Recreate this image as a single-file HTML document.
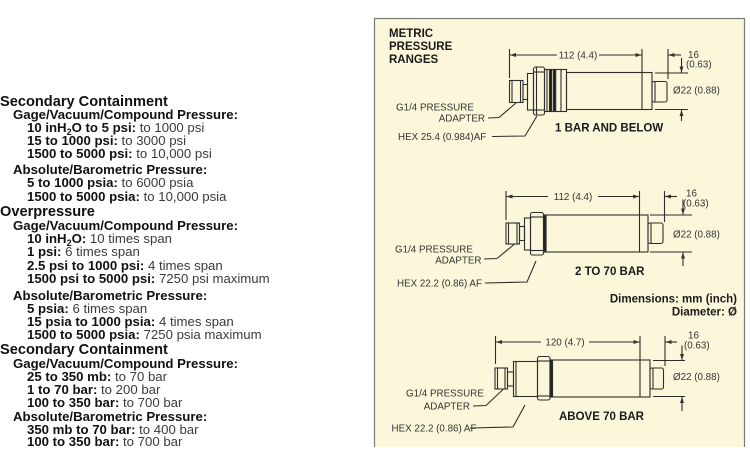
<!DOCTYPE html>
<html><head><meta charset="utf-8"><style>
html,body{margin:0;padding:0;background:#fff;}
body{width:750px;height:447px;position:relative;overflow:hidden;font-family:"Liberation Sans",Arial,sans-serif;}
.l{position:absolute;white-space:nowrap;line-height:16px;height:16px;font-size:13.2px;color:#3a3a3a;}
.l b{color:#111;font-weight:bold;}
.h{font-size:14.6px;font-weight:bold;color:#111;}
.s{font-weight:bold;color:#111;}
.sub{font-size:9px;position:relative;top:3px;}
svg{position:absolute;left:0;top:0;}
</style></head><body>
<div class="l h" style="left:0;top:93.5px">Secondary Containment</div>
<div class="l s" style="left:13px;top:107px">Gage/Vacuum/Compound Pressure:</div>
<div class="l" style="left:27px;top:120px"><b>10 inH<span class="sub">2</span>O to 5 psi:</b> to 1000 psi</div>
<div class="l" style="left:27px;top:133px"><b>15 to 1000 psi:</b> to 3000 psi</div>
<div class="l" style="left:27px;top:146px"><b>1500 to 5000 psi:</b> to 10,000 psi</div>
<div class="l s" style="left:13px;top:161.5px">Absolute/Barometric Pressure:</div>
<div class="l" style="left:27px;top:175px"><b>5 to 1000 psia:</b> to 6000 psia</div>
<div class="l" style="left:27px;top:188.5px"><b>1500 to 5000 psia:</b> to 10,000 psia</div>
<div class="l h" style="left:0;top:203.5px">Overpressure</div>
<div class="l s" style="left:13px;top:217.5px">Gage/Vacuum/Compound Pressure:</div>
<div class="l" style="left:27px;top:230.5px"><b>10 inH<span class="sub">2</span>O:</b> 10 times span</div>
<div class="l" style="left:27px;top:244px"><b>1 psi:</b> 6 times span</div>
<div class="l" style="left:27px;top:257.5px"><b>2.5 psi to 1000 psi:</b> 4 times span</div>
<div class="l" style="left:27px;top:270.5px"><b>1500 psi to 5000 psi:</b> 7250 psi maximum</div>
<div class="l s" style="left:13px;top:287.5px">Absolute/Barometric Pressure:</div>
<div class="l" style="left:27px;top:300.5px"><b>5 psia:</b> 6 times span</div>
<div class="l" style="left:27px;top:313.5px"><b>15 psia to 1000 psia:</b> 4 times span</div>
<div class="l" style="left:27px;top:327px"><b>1500 to 5000 psia:</b> 7250 psia maximum</div>
<div class="l h" style="left:0;top:342px">Secondary Containment</div>
<div class="l s" style="left:13px;top:356px">Gage/Vacuum/Compound Pressure:</div>
<div class="l" style="left:27px;top:369px"><b>25 to 350 mb:</b> to 70 bar</div>
<div class="l" style="left:27px;top:382px"><b>1 to 70 bar:</b> to 200 bar</div>
<div class="l" style="left:27px;top:395px"><b>100 to 350 bar:</b> to 700 bar</div>
<div class="l s" style="left:13px;top:409px">Absolute/Barometric Pressure:</div>
<div class="l" style="left:27px;top:421.5px"><b>350 mb to 70 bar:</b> to 400 bar</div>
<div class="l" style="left:27px;top:434px"><b>100 to 350 bar:</b> to 700 bar</div>

<svg width="750" height="447" viewBox="0 0 750 447" xmlns="http://www.w3.org/2000/svg" font-family="Liberation Sans, Arial, sans-serif">
<defs>
<marker id="a" markerWidth="6" markerHeight="4" refX="6" refY="2" orient="auto" markerUnits="userSpaceOnUse"><path d="M0,0 L6,2 L0,4z" fill="#333"/></marker>
</defs>
<rect x="374.5" y="18.5" width="370" height="440" fill="#fcf6da" stroke="#7a7a72" stroke-width="1.2"/>
<g font-weight="bold" font-size="11.5" fill="#1a1a1a">
<text x="389" y="37">METRIC</text>
<text x="389" y="50">PRESSURE</text>
<text x="389" y="63">RANGES</text>
</g>

<g stroke="#2e2e2e" stroke-width="1.1" fill="none">
<!-- Device 1 -->
<rect x="509.5" y="80.5" width="13.5" height="22" fill="#fcf6da"/>
<line x1="512" y1="80.5" x2="512" y2="102.5"/><line x1="520.5" y1="80.5" x2="520.5" y2="102.5"/>
<rect x="523" y="84.5" width="4.5" height="15"/>
<rect x="527.5" y="73.5" width="6" height="36.5"/>
<rect x="533.5" y="67" width="11" height="48" rx="2"/>
<line x1="533.5" y1="72" x2="544.5" y2="72"/><line x1="533.5" y1="110" x2="544.5" y2="110"/>
<line x1="536.5" y1="67" x2="536.5" y2="115"/>
<rect x="544.5" y="69.5" width="22" height="42"/>
<rect x="549.5" y="69.5" width="2.2" height="42" fill="#222"/>
<rect x="553.5" y="69.5" width="2.2" height="42" fill="#222"/>
<line x1="547" y1="69.5" x2="547" y2="111.5"/><line x1="561" y1="69.5" x2="561" y2="111.5"/>
<rect x="566.5" y="72.5" width="85.5" height="37"/>
<line x1="642" y1="49" x2="642" y2="109.5"/>
<rect x="652" y="81.5" width="15" height="20.5" rx="2"/>
<line x1="655" y1="81.5" x2="655" y2="102"/>
<line x1="509.5" y1="49" x2="509.5" y2="78"/>
<line x1="557" y1="55" x2="510" y2="55" marker-end="url(#a)"/>
<line x1="599" y1="55" x2="641.5" y2="55" marker-end="url(#a)"/>
<line x1="668" y1="49" x2="668" y2="79"/>
<line x1="681" y1="55" x2="668.5" y2="55" marker-end="url(#a)"/>
<line x1="655" y1="73" x2="688" y2="73"/><line x1="655" y1="109.5" x2="688" y2="109.5"/>
<line x1="681.5" y1="58" x2="681.5" y2="72.5" marker-end="url(#a)"/>
<line x1="681.5" y1="121" x2="681.5" y2="110" marker-end="url(#a)"/>
<polyline points="488,118 499,117.5 516,103"/>
<polyline points="492,136.5 525,136 537,116"/>

<!-- Device 2 -->
<rect x="506" y="223" width="13.5" height="21"/>
<line x1="508.5" y1="223" x2="508.5" y2="244"/><line x1="517" y1="223" x2="517" y2="244"/>
<rect x="519.5" y="226.5" width="5" height="14"/>
<rect x="524.5" y="218" width="6" height="32"/>
<rect x="530.5" y="212.5" width="13" height="42.5" rx="2"/>
<line x1="530.5" y1="217" x2="543.5" y2="217"/><line x1="530.5" y1="250.5" x2="543.5" y2="250.5"/>
<rect x="543.5" y="215" width="2.5" height="37" fill="#222"/>
<rect x="546" y="215" width="102" height="37"/>
<line x1="639.5" y1="191" x2="639.5" y2="252"/>
<rect x="648" y="223" width="15" height="20.5" rx="2"/>
<line x1="651" y1="223" x2="651" y2="243.5"/>
<line x1="506" y1="191" x2="506" y2="220"/>
<line x1="548" y1="196.5" x2="506.5" y2="196.5" marker-end="url(#a)"/>
<line x1="598" y1="196.5" x2="639" y2="196.5" marker-end="url(#a)"/>
<line x1="664.5" y1="191" x2="664.5" y2="222"/>
<line x1="677" y1="196.5" x2="665" y2="196.5" marker-end="url(#a)"/>
<line x1="650" y1="215" x2="692" y2="215"/><line x1="650" y1="252" x2="692" y2="252"/>
<line x1="683" y1="199.5" x2="683" y2="214.5" marker-end="url(#a)"/>
<line x1="683" y1="266" x2="683" y2="252.5" marker-end="url(#a)"/>
<polyline points="484,259 497,258.5 514,244.5"/>
<polyline points="485,283 527,282 536,261"/>

<!-- Device 3 -->
<rect x="495" y="368" width="12.5" height="21"/>
<line x1="497.5" y1="368" x2="497.5" y2="389"/><line x1="505" y1="368" x2="505" y2="389"/>
<rect x="507.5" y="372" width="6" height="14"/>
<rect x="513.5" y="361.5" width="24" height="35"/>
<line x1="516" y1="361.5" x2="516" y2="396.5"/>
<rect x="537.5" y="356.5" width="12.5" height="43.5" rx="2"/>
<line x1="537.5" y1="361" x2="550" y2="361"/><line x1="537.5" y1="396" x2="550" y2="396"/>
<rect x="550" y="360" width="2.5" height="37" fill="#222"/>
<rect x="552.5" y="360" width="97.5" height="37"/>
<line x1="640" y1="336" x2="640" y2="397"/>
<rect x="650" y="368" width="13.5" height="21" rx="2"/>
<line x1="653" y1="368" x2="653" y2="389"/>
<line x1="495.5" y1="336" x2="495.5" y2="364"/>
<line x1="541" y1="342" x2="496" y2="342" marker-end="url(#a)"/>
<line x1="589" y1="342" x2="639.5" y2="342" marker-end="url(#a)"/>
<line x1="665" y1="336" x2="665" y2="366"/>
<line x1="677" y1="342" x2="665.5" y2="342" marker-end="url(#a)"/>
<line x1="653" y1="360.5" x2="685" y2="360.5"/><line x1="653" y1="396.5" x2="685" y2="396.5"/>
<line x1="682" y1="345.5" x2="682" y2="360" marker-end="url(#a)"/>
<line x1="682" y1="411" x2="682" y2="397" marker-end="url(#a)"/>
<polyline points="473,406 486,405.5 503,389.5"/>
<polyline points="470,428 513,427 525,405"/>
</g>

<g font-size="9.8" fill="#333">
<text x="578" y="58.5" text-anchor="middle">112 (4.4)</text>
<text x="688" y="58">16</text>
<text x="686" y="67.5">(0.63)</text>
<text x="673" y="93.5">Ø22 (0.88)</text>
<text x="396" y="110.5">G1/4 PRESSURE</text>
<text x="485" y="121.5" text-anchor="end">ADAPTER</text>
<text x="398" y="140">HEX 25.4 (0.984)AF</text>

<text x="573" y="200" text-anchor="middle">112 (4.4)</text>
<text x="686" y="196.5">16</text>
<text x="683" y="206.5">(0.63)</text>
<text x="673" y="237.5">Ø22 (0.88)</text>
<text x="395" y="252.5">G1/4 PRESSURE</text>
<text x="481.5" y="263.5" text-anchor="end">ADAPTER</text>
<text x="397" y="286.5">HEX 22.2 (0.86) AF</text>

<text x="565" y="345.5" text-anchor="middle">120 (4.7)</text>
<text x="688" y="338.5">16</text>
<text x="684" y="348.5">(0.63)</text>
<text x="673" y="380">Ø22 (0.88)</text>
<text x="406" y="396.5">G1/4 PRESSURE</text>
<text x="470" y="409.5" text-anchor="end">ADAPTER</text>
<text x="391.5" y="431.5">HEX 22.2 (0.86) AF</text>
</g>

<g font-weight="bold" font-size="11.5" fill="#1a1a1a">
<text x="555" y="131.5">1 BAR AND BELOW</text>
<text x="575" y="275">2 TO 70 BAR</text>
<text x="559" y="420">ABOVE 70 BAR</text>
<text x="737" y="302.5" text-anchor="end">Dimensions: mm (inch)</text>
<text x="737" y="315.5" text-anchor="end">Diameter: Ø</text>
</g>
</svg>
</body></html>
